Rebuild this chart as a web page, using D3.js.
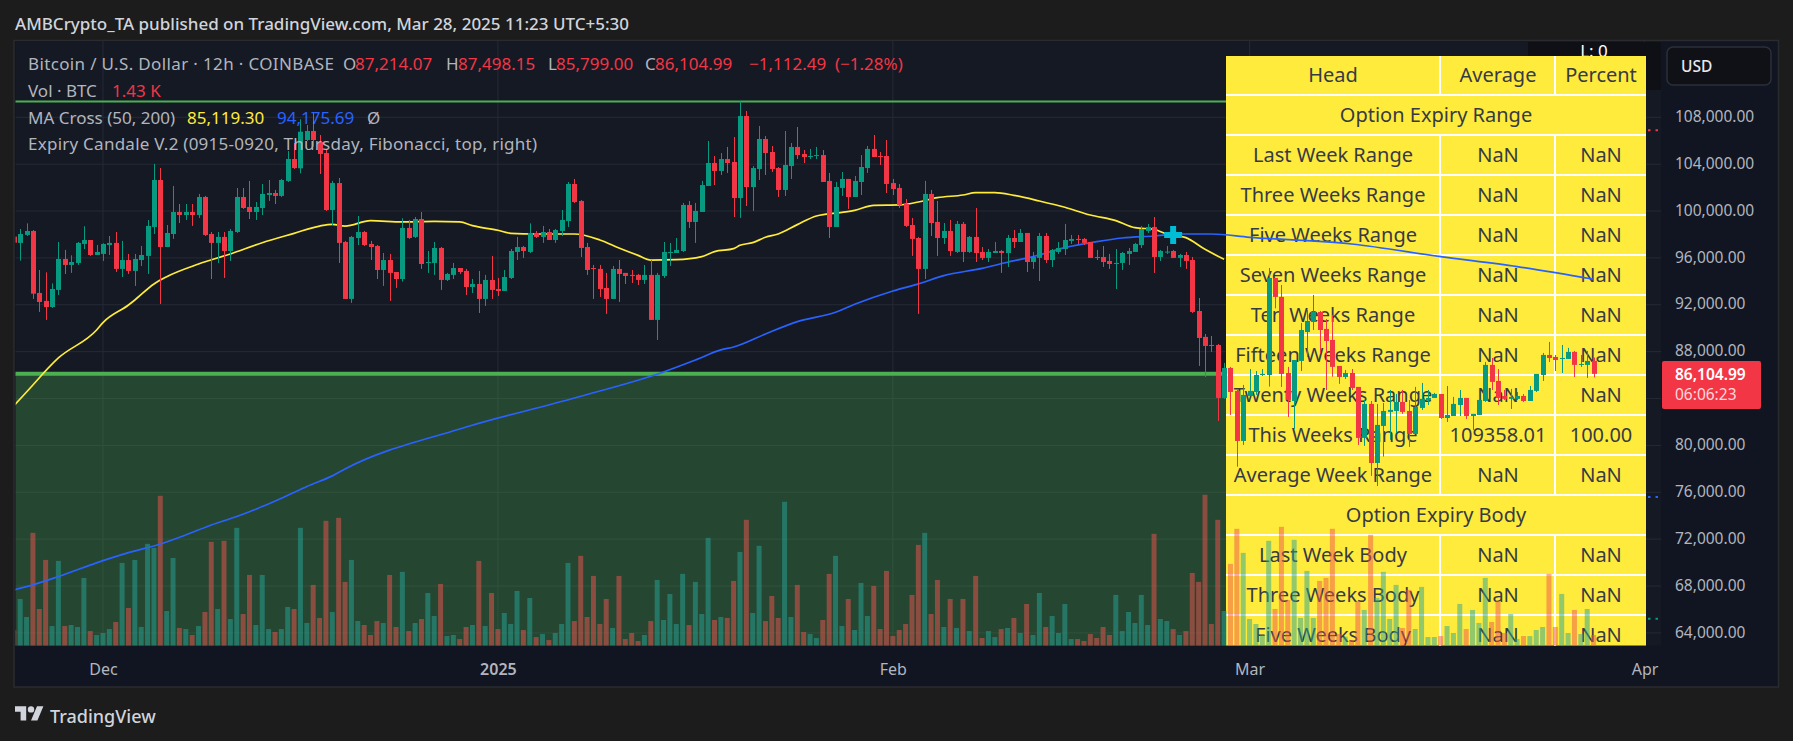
<!DOCTYPE html>
<html>
<head>
<meta charset="utf-8">
<title>BTCUSD 12h</title>
<script src="https://cdn.jsdelivr.net/npm/d3@7/dist/d3.min.js"></script>
<style>
  html, body { margin: 0; padding: 0; background: #1c1c1c; }
  svg { display: block; }
  text { font-family: "Noto Sans", sans-serif; }
</style>
</head>
<body>
<svg id="chart" width="1793" height="741"></svg>
<script>
// 12h candles, oldest first. Bar 14 is 1 Dec 2024, bar 248 is 28 Mar 2025.
const opens = [
97820,97280,97960,98300,93010,92330,91810,93270,95910,95400,95570,97190,97530,96250,96340,97100,97280,95060,95820,94890,
95820,96170,98640,102650,96930,98040,99920,99660,99920,99660,101200,98040,97280,97790,96590,98210,101200,100350,99920,100260,
101370,101540,101290,102570,104440,103650,106060,106830,105890,104950,100090,102390,97360,92500,97700,98210,97190,97020,94970,95820,
94800,94200,98560,97790,99320,95570,95570,96850,94120,94550,95140,94890,93520,93780,92500,94120,93350,93180,94290,96510,
96930,96510,98130,97790,98210,97530,98300,99150,102310,100860,96930,95140,95060,93440,92500,95060,94720,94550,94550,94120,
94550,90710,94460,96420,96420,96590,100520,99070,99920,102140,104100,103420,104440,104190,101110,108110,102050,103590,106150,105040,
103670,101800,103840,105470,104870,104610,104700,104780,102570,98640,101970,102740,101200,102480,103670,105300,104700,104700,102390,101970,
100600,98810,97700,95060,101460,99070,97700,98300,96510,98900,96510,97790,96510,96000,96420,96590,96420,97700,97360,98130,
95650,96000,97870,95820,96510,96760,97450,97620,97620,97360,96080,96080,95740,95480,95570,96340,96510,97100,98300,98640,
96080,96480,96590,96000,96250,95820,91470,89260,88570,88570,84050,86610,84650,80380,84220,84560,86010,86010,94290,92670,
86180,83790,87210,89680,90530,91390,89940,89000,86780,85840,86180,84990,80640,83540,78500,81660,82860,82940,83710,82940,
80980,83200,83880,84050,84390,82340,82510,83450,84050,82510,82600,83790,86870,85500,84220,83970,83970,84220,83790,84650,
86010,87720,87550,87380,87380,87980,86870,86870,87214.07];
const highs = [
97870,98470,98950,98380,94970,94770,93830,97360,96680,96220,97360,98700,97530,97100,97250,97870,98210,97450,96340,96340,
97020,99240,104020,103670,98810,102140,100600,100600,100600,101460,101290,98210,98210,98210,98470,101970,101970,102570,100770,102310,
102650,101800,102740,105120,105810,107830,107340,108400,106490,105300,102570,102820,97450,97870,99580,98300,97450,97100,96420,96340,
94800,99380,99240,99490,99920,96590,97360,96930,94720,95570,95140,95060,94200,94890,94550,96170,94290,94970,96760,97790,
97020,98950,98300,98730,98470,98470,100090,102480,102740,100940,97280,95400,95400,94720,95310,95820,94720,94970,94630,95400,
95820,94720,97360,97280,97700,100690,100860,100690,102570,105980,104700,104950,105470,106320,109358.01,108540,103840,107260,106400,105550,
103760,106830,105810,107170,105210,105300,105470,105210,103250,102480,103330,102740,102990,104780,105550,106490,105040,106060,102740,102310,
101030,99410,97790,102570,101800,100860,98980,99240,99150,99070,97870,100260,96930,96760,97360,96680,97960,98380,98470,98130,
96510,98130,98130,96760,97360,98900,97960,97960,97700,97360,96680,97020,96340,96760,96510,96850,97280,98730,98900,99490,
96680,97020,96680,96340,96510,96080,92580,89510,89340,88660,87040,86700,84730,85160,86520,86350,86520,95140,94290,93690,
86700,87290,90450,91560,92840,91470,90790,91130,86780,86440,86520,84990,83880,83790,83540,83620,84730,84390,84730,83880,
84990,85330,84730,84480,84390,85070,84140,84730,84050,82690,83880,87120,87460,86520,84730,84820,84560,84390,85070,86100,
87890,88830,87720,88570,88320,88060,87720,88060,87498.15];
const lows = [
97250,95770,97870,92500,91390,90710,91730,92840,94630,94720,95400,96760,96170,96250,95740,96250,94800,94370,94630,93610,
95310,94630,98040,92070,96930,97620,98980,99240,98730,99410,97870,94200,95570,94290,95740,98130,100180,99320,99240,99660,
100860,100600,101200,102480,103590,103220,105980,105490,103160,100010,98810,95570,92500,92160,97100,97020,95820,94200,93610,92330,
93440,93980,97620,97700,95060,94720,94550,93270,94030,94200,94630,92840,93010,91300,91900,92500,92750,93180,94200,95820,
96000,96420,97700,97280,97530,97280,97870,98640,100690,96080,94550,92500,92670,91220,92500,92240,93780,93860,93690,93780,
90710,89000,94290,95310,96420,96510,98560,97280,99920,102140,102220,103080,103250,99490,99410,100430,100010,102650,103080,103330,
101200,101290,102740,104440,104100,104440,104440,102480,97700,98640,101290,100180,101200,101370,103250,104610,103930,101540,101370,100260,
98640,96170,91220,94200,97870,96170,97190,96170,96420,95650,96420,95650,95820,95650,96420,94720,95230,96850,97360,94800,
95060,94030,95570,95230,96340,96250,97190,97190,97100,96000,95820,95230,95060,93350,94970,95400,96510,96850,98130,94720,
95740,96340,96000,95230,95060,91300,86780,85840,87980,82090,83970,82600,78190,80040,84220,84310,85930,85020,91700,84990,
82430,81410,86350,87550,89850,87860,84730,85870,85250,85670,84730,80040,79960,77400,76540,79050,80470,81060,82690,79870,
80980,83030,83450,84050,82260,82000,82510,82510,82260,81320,82600,83710,84730,83450,83880,83110,83880,83710,83790,84560,
85500,87120,86350,86180,87380,85840,86700,85760,85799];
const closes = [
97300,98040,98300,92950,92240,91810,93350,95910,95400,95650,97280,97530,96250,96510,97190,97280,95060,95820,94890,95910,
96250,98730,102650,96930,98130,99920,99660,99920,99660,101200,97960,97280,97790,96590,98300,101200,100260,99920,100350,101460,
101540,101290,102650,104440,103670,106770,106830,106060,104870,100090,102390,97280,92500,97790,98210,97100,96930,94970,95820,94720,
94200,98560,97700,99320,95480,95650,96850,94120,94630,95140,94800,93520,93780,92500,94120,93270,93180,94370,96590,96930,
96590,98130,97790,98210,97530,98380,99240,102310,100770,96850,94970,95060,93350,92500,95060,94630,94460,94460,94120,94550,
90710,94550,96510,96510,96680,100520,99070,100010,102220,104100,103420,104440,104100,101110,108110,102050,103670,106150,104950,103590,
101800,103930,105470,104780,104610,104700,104780,102480,98640,102050,102740,101200,102570,103760,105300,104610,104610,102310,101880,100520,
98730,97620,95060,101460,98980,97700,98300,96590,98900,96510,97790,96420,96000,96510,96590,96420,97700,97360,98130,95650,
96080,97870,95820,96680,96850,97530,97620,97530,97280,96000,96000,95650,95480,95570,96420,96590,97190,98470,98640,96080,
96590,96540,96000,96250,95740,91390,89170,88490,88490,84050,86610,84560,80380,84310,84650,86010,86100,94290,92670,86100,
83880,87290,89850,90620,91390,89850,88910,86700,85840,86180,84900,80640,83540,78500,81750,82940,83030,83710,82860,80980,
83280,83970,84050,84390,82340,82600,83540,84050,82510,82690,83880,86870,85420,84050,83970,84140,84220,83790,84730,86100,
87720,87460,87290,87460,87980,86870,86950,87210,86104.99];
// Traded volume per bar, in thousands of BTC.
const volumes = [
2.1,6.25,3.84,15.09,4.91,11.47,2.63,11.34,2.63,2.77,2.5,9.06,1.96,1.43,1.7,2.23,3.17,11.07,5.04,11.47,
2.5,13.62,13.08,20.04,4.64,11.74,2.37,2.23,1.43,2.63,4.51,13.88,4.91,14.02,3.57,15.76,4.24,9.46,2.77,9.46,
2.23,1.83,2.23,5.18,4.91,15.76,3.04,8.13,3.71,16.7,4.51,17.1,8.53,11.47,3.3,2.77,1.43,3.3,3.04,9.46,
2.5,9.87,1.96,3.04,3.57,7.05,3.97,8.26,1.29,1.43,0.89,2.5,2.77,11.34,2.63,7.05,2.23,4.38,2.9,7.32,
2.1,6.38,1.16,1.56,0.76,1.7,2.9,11.07,3.3,12.01,3.84,9.33,2.9,6.25,2.37,9.33,0.89,1.7,0.63,1.43,
3.3,8.79,3.44,6.92,2.9,9.6,2.77,8.53,4.24,14.42,3.44,3.84,3.71,8.66,12.54,16.83,4.38,13.35,3.3,6.65,
3.71,19.24,3.84,8.13,1.83,1.56,1.03,3.44,9.6,12.01,2.63,6.25,2.1,8.39,3.97,7.99,2.23,10,1.29,2.1,
2.9,6.79,13.48,15.09,4.24,8.79,2.5,6.25,2.37,6.25,1.96,9.33,1.03,1.96,1.16,2.23,2.37,3.71,1.7,5.58,
1.43,7.05,2.5,3.97,1.7,5.58,0.89,0.89,0.63,1.56,1.03,2.5,1.43,6.79,1.96,4.51,3.04,6.79,2.77,14.96,
3.57,3.3,2.23,1.43,1.96,9.73,8.53,20.18,2.9,16.83,4.64,10.94,15.63,12.41,3.57,2.9,1.43,14.02,4.91,15.89,
6.12,14.15,3.71,10,3.71,8.66,9.06,15.63,1.56,1.21,0.76,5.98,4.78,14.82,6.38,9.87,3.57,8.13,2.37,7.46,
2.23,7.86,1.16,1.16,1.29,2.63,1.7,5.58,2.23,4.78,3.04,9.06,3.17,5.98,1.7,4.24,0.89,1.29,1.29,2.1,
2.5,9.6,2.5,6.92,1.7,4.78,1.56,4.91,1.43];

// 50-period moving average, bar number and price. It runs behind the table, so it stops at bar 190.
const fastMaBars = [0,2,7,13,14,18,19,22,24,29,34,39,44,48,50,52,56,61,66,70,72,76,78,82,88,92,95,98,100,104,108,110,113,114,116,118,120,123,126,130,132,135,139,142,145,149,151,154,157,161,165,169,173,176,179,181,184,187,190];
const fastMaValues = [83370,84560,87460,89850,90480,91980,92410,93780,94400,95480,96340,97300,98100,98720,98870,98720,99180,99070,99120,99070,98750,98360,98100,98040,98040,97530,96850,96220,95820,95850,96110,96540,96790,97080,97300,97760,98040,98840,99580,99890,100060,100490,100520,100770,101140,101370,101570,101570,101340,100860,100320,99660,99180,98580,98440,98040,97730,96730,95880];
// 200-period moving average, bar number and price.
const slowMaBars = [0,3,7,14,18,23,27,31,35,39,43,46,50,52,70,88,102,107,111,113,118,123,129,132,138,142,146,152,156,160,165,170,174,179,183,188,194,210,224,236,248];
const slowMaValues = [67670,68100,68810,70170,70850,71590,72360,73210,73930,74780,75740,76490,77400,77990,81400,84050,86270,87290,88150,88400,89510,90560,91360,92040,93180,93780,94490,95110,95630,96110,96880,97390,97700,97870,98040,98040,97760,97190,96110,95260,94175.69];

// The grid keeps 84,000, but the last-price tag sits on its label, so the axis skips it.
const priceGrid = [108000,104000,100000,96000,92000,88000,84000,80000,76000,72000,68000,64000];
const priceLabels = [108000,104000,100000,96000,92000,88000,80000,76000,72000,68000,64000];
const timeTickBars = [14,76,138,194,256];
const timeTickLabels = ["Dec","2025","Feb","Mar","Apr"];
const boxTopPrice = 109358.01;
const boxBottomPrice = 86104.99;
const crossBar = 182;
const crossPrice = 97957;

const tableHeader = ["Head","Average","Percent"];
const tableRows = [
  ["Option Expiry Range"],
  ["Last Week Range","NaN","NaN"],
  ["Three Weeks Range","NaN","NaN"],
  ["Five Weeks Range","NaN","NaN"],
  ["Seven Weeks Range","NaN","NaN"],
  ["Ten Weeks Range","NaN","NaN"],
  ["Fifteen Weeks Range","NaN","NaN"],
  ["Twenty Weeks Range","NaN","NaN"],
  ["This Weeks Range","109358.01","100.00"],
  ["Average Week Range","NaN","NaN"],
  ["Option Expiry Body"],
  ["Last Week Body","NaN","NaN"],
  ["Three Weeks Body","NaN","NaN"],
  ["Five Weeks Body","NaN","NaN"]
];

const UP = "#089981", DOWN = "#F23645";
const VOL_UP = "rgba(38,166,154,0.5)", VOL_DOWN = "rgba(239,83,80,0.5)";
const GREY = "#b2b5be";

const plot = { left: 15.5, right: 1661, top: 41, bottom: 645.7, frameRight: 1778.5, frameBottom: 687 };

const svg = d3.select("#chart");
const x = d3.scaleLinear().domain([0, 248]).range([13.8, 13.8 + 248 * 6.37]);
const y = d3.scaleLinear().domain([108000, 64000]).range([117.3, 632.9]);
const yVol = d3.scaleLinear().domain([0, 25]).range([plot.bottom, plot.bottom - 187]);

const defs = svg.append("defs");
defs.append("clipPath").attr("id", "plotClip").append("rect")
  .attr("x", plot.left).attr("y", plot.top)
  .attr("width", plot.right - plot.left).attr("height", plot.bottom - plot.top);
defs.append("clipPath").attr("id", "tableClip").append("rect")
  .attr("x", 1226).attr("y", 56).attr("width", 420).attr("height", plot.bottom - 56);
defs.append("clipPath").attr("id", "fastClip").append("rect")
  .attr("x", plot.left).attr("y", plot.top)
  .attr("width", 1226 - plot.left).attr("height", plot.bottom - plot.top);

// Chart frame and panels
svg.append("rect").attr("x", 14).attr("y", 40.5)
  .attr("width", plot.frameRight - 14).attr("height", plot.frameBottom - 40.5)
  .attr("fill", "#111522").attr("stroke", "#2a2b2e").attr("stroke-width", 1.5);
svg.append("rect").attr("x", plot.left).attr("y", plot.top)
  .attr("width", plot.right - plot.left).attr("height", plot.bottom - plot.top)
  .attr("fill", "#151924");

// Grid
const grid = svg.append("g").attr("stroke", "#262a35").attr("stroke-width", 1);
grid.selectAll("line.h").data(priceGrid).join("line").attr("class", "h")
  .attr("x1", plot.left).attr("x2", plot.right).attr("y1", d => y(d)).attr("y2", d => y(d));
grid.selectAll("line.v").data(timeTickBars).join("line").attr("class", "v")
  .attr("x1", d => x(d)).attr("x2", d => x(d)).attr("y1", plot.top).attr("y2", plot.bottom);

// Expiry range box
svg.append("rect").attr("x", plot.left).attr("width", 1226 - plot.left)
  .attr("y", y(boxBottomPrice)).attr("height", plot.bottom - y(boxBottomPrice))
  .attr("fill", "rgba(76,175,80,0.3)");
svg.append("line").attr("x1", plot.left).attr("x2", 1226)
  .attr("y1", y(boxTopPrice)).attr("y2", y(boxTopPrice))
  .attr("stroke", "#4caf50").attr("stroke-width", 2);
svg.append("line").attr("x1", plot.left).attr("x2", 1226)
  .attr("y1", y(boxBottomPrice)).attr("y2", y(boxBottomPrice))
  .attr("stroke", "#4caf50").attr("stroke-width", 4);

// Dark status box peeking out above the table
svg.append("rect").attr("x", 1528).attr("y", 42).attr("width", 133).attr("height", 48).attr("fill", "#0e1016");
svg.append("text").attr("x", 1594).attr("y", 50).attr("text-anchor", "middle")
  .attr("dominant-baseline", "central").attr("fill", "#fff").attr("font-size", 17).text("L: 0");

// Line-end markers to the right of the table
const endMarks = [[106900, "#f23645"], [75600, "#2962ff"], [65200, "#089981"]];
svg.selectAll("line.mark").data(endMarks).join("line").attr("class", "mark")
  .attr("x1", 1648).attr("x2", 1661).attr("y1", d => y(d[0])).attr("y2", d => y(d[0]))
  .attr("stroke", d => d[1]).attr("stroke-width", 2).attr("stroke-dasharray", "2.5 5");

// Options table
const table = svg.append("g").attr("clip-path", "url(#tableClip)");
table.append("rect").attr("x", 1226).attr("y", 56).attr("width", 420).attr("height", plot.bottom - 56).attr("fill", "#ffeb3b");
const rowTop = i => 56 + (i === 0 ? 0 : 39 + (i - 1) * 40);
const rowMid = i => i === 0 ? 74 : 114 + (i - 1) * 40;
const rows = [tableHeader, ...tableRows];
rows.forEach((r, i) => {
  if (i > 0) table.append("line").attr("x1", 1226).attr("x2", 1646)
    .attr("y1", rowTop(i)).attr("y2", rowTop(i)).attr("stroke", "#fff").attr("stroke-width", 2);
  if (r.length === 3) {
    [1440, 1555].forEach(sx => table.append("line").attr("x1", sx).attr("x2", sx)
      .attr("y1", rowTop(i)).attr("y2", rowTop(i + 1)).attr("stroke", "#fff").attr("stroke-width", 2));
  }
  const cols = r.length === 3 ? [1333, 1498, 1601] : [1436];
  r.forEach((t, k) => table.append("text").attr("x", cols[k]).attr("y", rowMid(i))
    .attr("text-anchor", "middle").attr("dominant-baseline", "central")
    .attr("fill", "#363a45").attr("font-size", 20).text(t));
});

// Volume bars
const bars = d3.range(opens.length);
const isUp = i => closes[i] >= opens[i];
const chartArea = svg.append("g").attr("clip-path", "url(#plotClip)");
chartArea.append("g").selectAll("rect").data(bars).join("rect")
  .attr("x", i => x(i) - 2.5).attr("width", 5)
  .attr("y", i => yVol(volumes[i])).attr("height", i => yVol(0) - yVol(volumes[i]))
  .attr("fill", i => isUp(i) ? VOL_UP : VOL_DOWN);

// Moving averages
const maLine = d3.line().x(d => x(d[0])).y(d => y(d[1])).curve(d3.curveMonotoneX);
chartArea.append("g").attr("clip-path", "url(#fastClip)").append("path")
  .attr("d", maLine(d3.zip(fastMaBars, fastMaValues)))
  .attr("fill", "none").attr("stroke", "#ffeb3b").attr("stroke-width", 1.7);
chartArea.append("path")
  .attr("d", maLine(d3.zip(slowMaBars, slowMaValues)))
  .attr("fill", "none").attr("stroke", "#2962ff").attr("stroke-width", 1.7);

// Candles
const candles = chartArea.append("g").selectAll("g").data(bars).join("g")
  .attr("fill", i => isUp(i) ? UP : DOWN).attr("stroke", i => isUp(i) ? UP : DOWN);
candles.append("line")
  .attr("x1", i => Math.round(x(i)) + 0.5).attr("x2", i => Math.round(x(i)) + 0.5)
  .attr("y1", i => y(highs[i])).attr("y2", i => y(lows[i])).attr("stroke-width", 1);
candles.append("rect").attr("stroke", "none")
  .attr("x", i => Math.round(x(i)) - 2).attr("width", 5)
  .attr("y", i => y(Math.max(opens[i], closes[i])))
  .attr("height", i => Math.max(1, Math.abs(y(opens[i]) - y(closes[i]))));

// MA cross marker
chartArea.append("path")
  .attr("d", d3.symbol(d3.symbolCross, 180))
  .attr("transform", `translate(${x(crossBar)},${y(crossPrice)})`)
  .attr("fill", "#00bcd4");

// Price axis
const priceAxis = d3.axisRight(y).tickValues(priceLabels).tickSize(0).tickPadding(0)
  .tickFormat(d => d3.format(",.2f")(d));
const axisPrice = svg.append("g").attr("transform", "translate(1675,0)").call(priceAxis);
axisPrice.select(".domain").remove();
axisPrice.selectAll("text").attr("fill", GREY).attr("font-size", 15.5)
  .attr("font-family", '"Noto Sans", sans-serif').attr("dy", "0.27em");

// Time axis
const timeAxis = d3.axisBottom(x).tickValues(timeTickBars).tickSize(0).tickPadding(0)
  .tickFormat((d, i) => timeTickLabels[i]);
const axisTime = svg.append("g").attr("transform", "translate(0,664)").call(timeAxis);
axisTime.select(".domain").remove();
axisTime.selectAll("text").attr("fill", GREY).attr("font-size", 16)
  .attr("font-family", '"Noto Sans", sans-serif')
  .attr("font-weight", d => d === 76 ? 600 : 400);

// Last price tag
svg.append("rect").attr("x", 1662).attr("y", 361).attr("width", 99).attr("height", 48).attr("rx", 2).attr("fill", "#f23645");
svg.append("text").attr("x", 1675).attr("y", 374).attr("dominant-baseline", "central")
  .attr("fill", "#fff").attr("font-size", 15.5).attr("font-weight", 600).text("86,104.99");
svg.append("text").attr("x", 1675).attr("y", 394).attr("dominant-baseline", "central")
  .attr("fill", "#ffd9dc").attr("font-size", 15.5).text("06:06:23");

// Currency button
svg.append("rect").attr("x", 1667).attr("y", 47).attr("width", 104).attr("height", 38).attr("rx", 6)
  .attr("fill", "#0f1116").attr("stroke", "#2c2f38").attr("stroke-width", 1.5);
svg.append("text").attr("x", 1681).attr("y", 66).attr("dominant-baseline", "central")
  .attr("fill", "#e8e8ea").attr("font-size", 15.5).attr("font-weight", 500).text("USD");

// Legend: text, left edge, middle, colour, and fitted width for the long lines
const legendChunks = [
  ["Bitcoin / U.S. Dollar · 12h · COINBASE", 28, 63, GREY, 306],
  ["O", 343, 63, GREY], ["87,214.07", 355, 63, DOWN],
  ["H", 446, 63, GREY], ["87,498.15", 458, 63, DOWN],
  ["L", 548, 63, GREY], ["85,799.00", 556, 63, DOWN],
  ["C", 645, 63, GREY], ["86,104.99", 655, 63, DOWN],
  ["−1,112.49", 749, 63, DOWN], ["(−1.28%)", 835, 63, DOWN],
  ["Vol · BTC", 28, 90, GREY], ["1.43 K", 112, 90, DOWN],
  ["MA Cross (50, 200)", 28, 117, GREY, 147], ["85,119.30", 187, 117, "#ffeb3b"],
  ["94,175.69", 277, 117, "#2962ff"], ["Ø", 367, 117, GREY],
  ["Expiry Candale V.2 (0915-0920, Thursday, Fibonacci, top, right)", 28, 143, GREY, 509]
];
svg.append("g").selectAll("text").data(legendChunks).join("text")
  .attr("x", d => d[1]).attr("y", d => d[2]).attr("dominant-baseline", "central")
  .attr("textLength", d => d[4] || null).attr("lengthAdjust", "spacing")
  .attr("fill", d => d[3]).attr("font-size", 17).text(d => d[0]);

// Title line
svg.append("text").attr("x", 15).attr("y", 23).attr("dominant-baseline", "central")
  .attr("fill", "#d1d4dc").attr("font-size", 17).attr("font-weight", 500)
  .text("AMBCrypto_TA published on TradingView.com, Mar 28, 2025 11:23 UTC+5:30");

// Brand
svg.append("path").attr("transform", "translate(15,703) scale(0.8)")
  .attr("d", "M14 22H7V11H0V4h14v18zM28 22h-8l7.5-18h8L28 22z").attr("fill", "#d1d4dc");
svg.append("circle").attr("transform", "translate(15,703) scale(0.8)")
  .attr("cx", 20).attr("cy", 8).attr("r", 4).attr("fill", "#d1d4dc");
svg.append("text").attr("x", 50).attr("y", 716).attr("dominant-baseline", "central")
  .attr("fill", "#d1d4dc").attr("font-size", 18).attr("font-weight", 500).text("TradingView");
</script>
</body>
</html>
